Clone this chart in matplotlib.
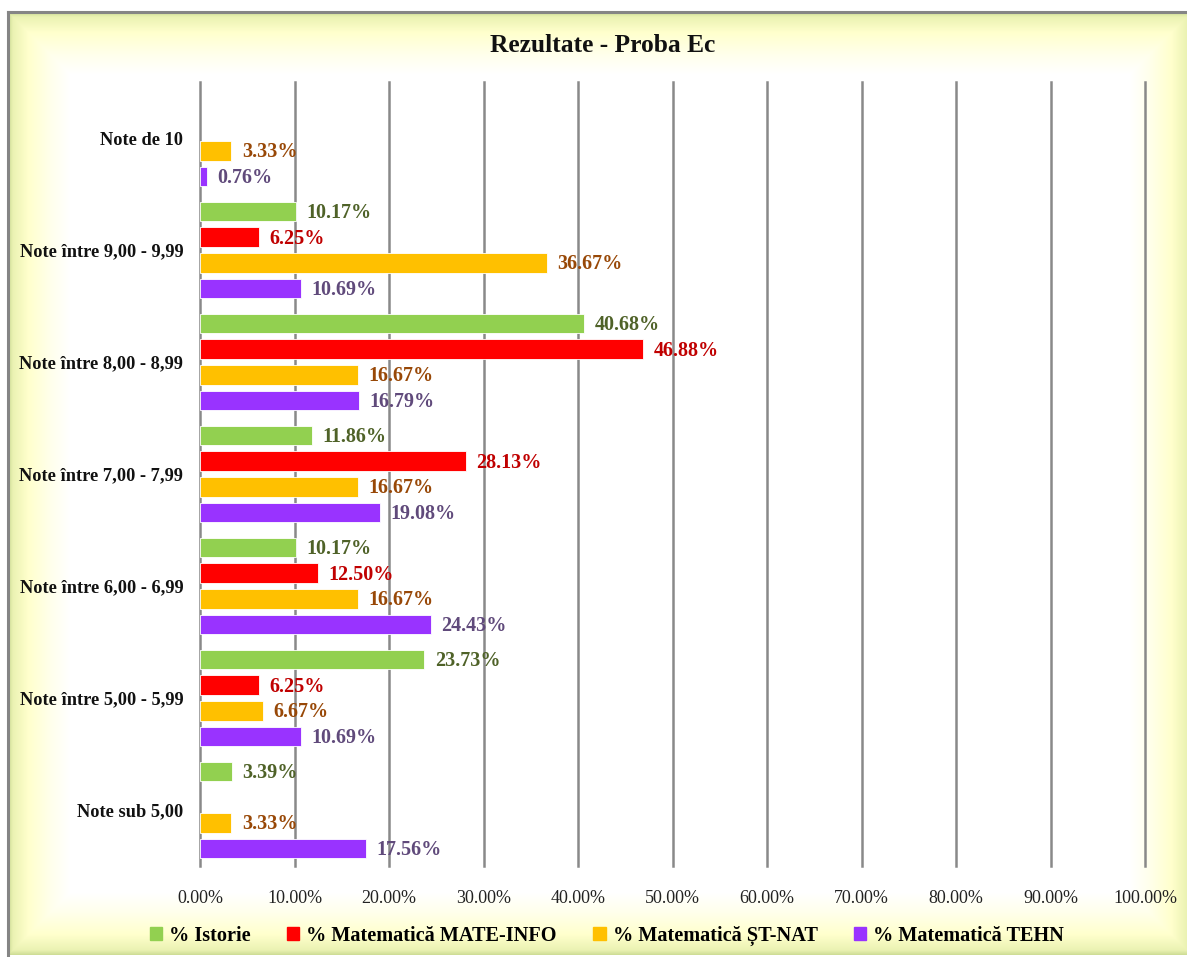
import numpy as np
import matplotlib
matplotlib.use("Agg")
import matplotlib.pyplot as plt
from matplotlib.patches import Rectangle

categories = ["Note de 10", "Note între 9,00 - 9,99", "Note între 8,00 - 8,99",
              "Note între 7,00 - 7,99", "Note între 6,00 - 6,99",
              "Note între 5,00 - 5,99", "Note sub 5,00"]
series_names = ["% Istorie", "% Matematică MATE-INFO", "% Matematică ȘT-NAT", "% Matematică TEHN"]
istorie = [0.0, 10.17, 40.68, 11.86, 10.17, 23.73, 3.39]
mate_info = [0.0, 6.25, 46.88, 28.13, 12.50, 6.25, 0.0]
st_nat = [3.33, 36.67, 16.67, 16.67, 16.67, 6.67, 3.33]
tehn = [0.76, 10.69, 16.79, 19.08, 24.43, 10.69, 17.56]
xticks = [0, 10, 20, 30, 40, 50, 60, 70, 80, 90, 100]

bar_colors = ["#92d050", "#ff0000", "#ffc000", "#9933ff"]
label_colors = ["#4f6228", "#c00000", "#984807", "#604a7b"]

plt.rcParams['font.family'] = ['Liberation Serif', 'DejaVu Serif']

W, H = 1187, 957
fig = plt.figure(figsize=(W / 100, H / 100), dpi=100)
fig.patch.set_facecolor("white")

# background with soft inner glow
bg = fig.add_axes([0, 0, 1, 1], zorder=-10)
bg.set_xlim(0, W)
bg.set_ylim(H, 0)
bg.axis("off")
x0, y0, x1, y1 = 8, 12, 1192, 955
xs = np.arange(W) + 0.5
ys = np.arange(H) + 0.5
X, Y = np.meshgrid(xs, ys)
dx = np.minimum(X - x0, x1 - X)
dy = np.minimum(Y - y0, y1 - Y)
d = np.minimum(dx, dy)
stops_d = [0, 5, 20, 42, 62]
c_edge = np.array([0.80, 0.86, 0.58])
c_mid = np.array([0.92, 0.95, 0.70])
c_yel = np.array([1.0, 1.0, 0.80])
c_lt = np.array([1.0, 1.0, 0.92])
c_w = np.array([1.0, 1.0, 1.0])
cols = [c_edge, c_mid, c_yel, c_lt, c_w]
img = np.ones((H, W, 3))
for k in range(3):
    img[..., k] = np.interp(d, stops_d, [c[k] for c in cols])
img[d < 0] = 1.0
bg.imshow(img, extent=(0, W, H, 0), interpolation="bilinear", aspect="auto")
bg.plot([x0, x0], [y0, y1], color="#858585", lw=2.2)
bg.plot([x0, W], [y0, y0], color="#858585", lw=2.2)

# main axes
left, right, top, bottom = 200, 1145, 82, 866
ax = fig.add_axes([left / W, 1 - bottom / H, (right - left) / W, (bottom - top) / H])
ax.set_facecolor("none")

series = [istorie, mate_info, st_nat, tehn]
n = len(categories)
ypos = np.arange(n)
step = 0.229
bh = 0.178
offsets = (np.arange(4) - 1.5) * step
for t in xticks:
    ax.axvline(t, color="#898989", linewidth=1.8, zorder=0, clip_on=False)
for s, vals in enumerate(series):
    for i, v in enumerate(vals):
        if v <= 0:
            continue
        yy = ypos[i] + offsets[s]
        ax.barh(yy, v, height=bh, color=bar_colors[s], edgecolor="white",
                linewidth=0.6, zorder=3)
        ax.annotate(f"{v:.2f}%", xy=(v, yy), xytext=(7.5, -1.2), textcoords="offset points",
                    va="center", ha="left", fontsize=14.5, fontweight="bold",
                    color=label_colors[s], zorder=4)

ax.set_xlim(0, 100)
ax.set_ylim(n - 0.5, -0.5)
ax.set_xticks(xticks)
ax.set_xticklabels([f"{t:.2f}%" for t in xticks], fontsize=13, color="#222222")
ax.set_yticks(ypos)
ax.set_yticklabels(categories, fontsize=13.2, fontweight="bold", color="#111111")
ax.tick_params(axis="x", length=0, pad=17)
ax.tick_params(axis="y", length=0, pad=12)
for sp in ax.spines.values():
    sp.set_visible(False)

fig.text(603 / W, 1 - 45 / H, "Rezultate - Proba Ec", ha="center", va="center",
         fontsize=18.4, fontweight="bold", color="#111111")

handles = [Rectangle((0, 0), 1, 1, color=c) for c in bar_colors]
leg = fig.legend(handles, series_names, loc="center", bbox_to_anchor=(607 / W, 1 - 936 / H),
                 ncol=4, frameon=False, handlelength=0.6, handleheight=0.6,
                 handletextpad=0.35, columnspacing=1.8,
                 prop={"family": ["Liberation Serif"], "weight": "bold", "size": 14.6})

fig.savefig("out.png", dpi=100)
